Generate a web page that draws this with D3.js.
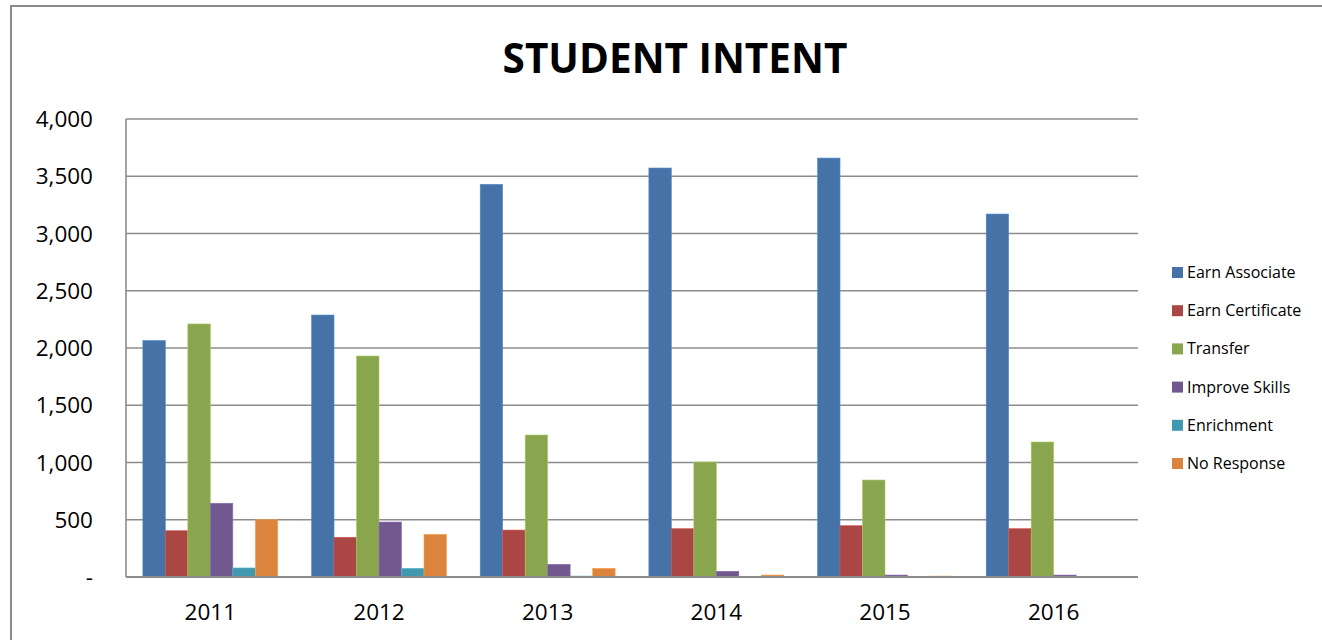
<!DOCTYPE html>
<html><head>
<meta charset="utf-8">
<title>Student Intent</title>
<script src="https://d3js.org/d3.v7.min.js"></script>
<style>
  body { margin: 0; background: #fff; }
  text { font-family: "Open Sans", sans-serif; fill: #000; }
  .grid line { stroke: #8c8c8c; stroke-width: 1.6px; }
  .frame { fill: none; stroke: #8c8c8c; stroke-width: 2px; }
</style>
</head>
<body>
<svg id="chart" width="1322" height="640"></svg>
<script>

// data
const years = ["2011", "2012", "2013", "2014", "2015", "2016"];
const seriesNames = ["Earn Associate", "Earn Certificate", "Transfer", "Improve Skills", "Enrichment", "No Response"];
const seriesColors = ["#4572A7", "#AA4643", "#89A54E", "#71588F", "#4198AF", "#DB843D"];

const earnAssociate   = [2065, 2288, 3430, 3572, 3659, 3170];
const earnCertificate = [404, 347, 410, 422, 448, 422];
const transfer        = [2210, 1930, 1240, 1004, 847, 1179];
const improveSkills   = [644, 480, 111, 50, 17, 17];
const enrichment      = [79, 76, 8, 0, 0, 0];
const noResponse      = [500, 373, 76, 17, 8, 5];

const yTicks = [0, 500, 1000, 1500, 2000, 2500, 3000, 3500, 4000];

const allSeries = [earnAssociate, earnCertificate, transfer, improveSkills, enrichment, noResponse];

var svg = d3.select("#chart");

// outer chart frame (runs off the right and bottom of the picture)
svg.append("rect").attr("class", "frame")
  .attr("x", 11).attr("y", 6).attr("width", 1400).attr("height", 700);

var plot = { left: 126, right: 1138, top: 119, bottom: 577 };

var x = d3.scaleBand().domain(years).range([plot.left, plot.right]);
// Excel style gap: 150% of a bar width between groups
var inner = d3.scaleBand().domain(d3.range(seriesNames.length))
  .range([0, x.bandwidth()]).paddingOuter(0.75).paddingInner(0);
var y = d3.scaleLinear().domain([0, 4000]).range([plot.bottom, plot.top]);

// gridlines
svg.append("g").attr("class", "grid")
  .selectAll("line").data(yTicks.filter(d => d > 0)).enter()
  .append("line")
  .attr("x1", plot.left).attr("x2", plot.right)
  .attr("y1", d => y(d)).attr("y2", d => y(d));

// y tick labels
svg.append("g").selectAll("text").data(yTicks).enter()
  .append("text")
  .attr("x", 93)
  .attr("y", d => y(d) + 8)
  .attr("text-anchor", "end")
  .style("font-size", "22.5px")
  .text(d => d === 0 ? "-" : d3.format(",")(d));

// bars
allSeries.forEach((vals, si) => {
  svg.append("g").selectAll("rect").data(vals).enter()
    .append("rect")
    .attr("x", (d, i) => x(years[i]) + inner(si))
    .attr("width", inner.bandwidth())
    .attr("y", d => y(d))
    .attr("height", d => plot.bottom - y(d))
    .attr("fill", seriesColors[si])
    .attr("stroke", d3.color(seriesColors[si]).brighter(0.6))
    .attr("stroke-width", 0.6);
});

// axis lines
svg.append("line")
  .attr("x1", plot.left).attr("x2", plot.left)
  .attr("y1", plot.top).attr("y2", plot.bottom)
  .attr("stroke", "#8c8c8c").attr("stroke-width", 1.6);
svg.append("line")
  .attr("x1", plot.left).attr("x2", plot.right)
  .attr("y1", plot.bottom).attr("y2", plot.bottom)
  .attr("stroke", "#8c8c8c").attr("stroke-width", 1.8);

// category labels
svg.append("g").selectAll("text").data(years).enter()
  .append("text")
  .attr("x", d => x(d) + x.bandwidth() / 2)
  .attr("y", 620)
  .attr("text-anchor", "middle")
  .style("font-size", "22.5px")
  .text(d => d);

// title
svg.append("text")
  .attr("x", 675).attr("y", 73)
  .attr("text-anchor", "middle")
  .style("font-size", "40.5px").style("font-weight", "bold")
  .text("STUDENT INTENT");

// legend
var legend = svg.append("g").selectAll("g").data(seriesNames).enter()
  .append("g")
  .attr("transform", (d, i) => "translate(1172," + (267 + i * 38.2) + ")");
legend.append("rect")
  .attr("width", 11).attr("height", 11)
  .attr("fill", (d, i) => seriesColors[i]);
legend.append("text")
  .attr("x", 15).attr("y", 11)
  .style("font-size", "16px")
  .text(d => d);

</script>
</body>
</html>
